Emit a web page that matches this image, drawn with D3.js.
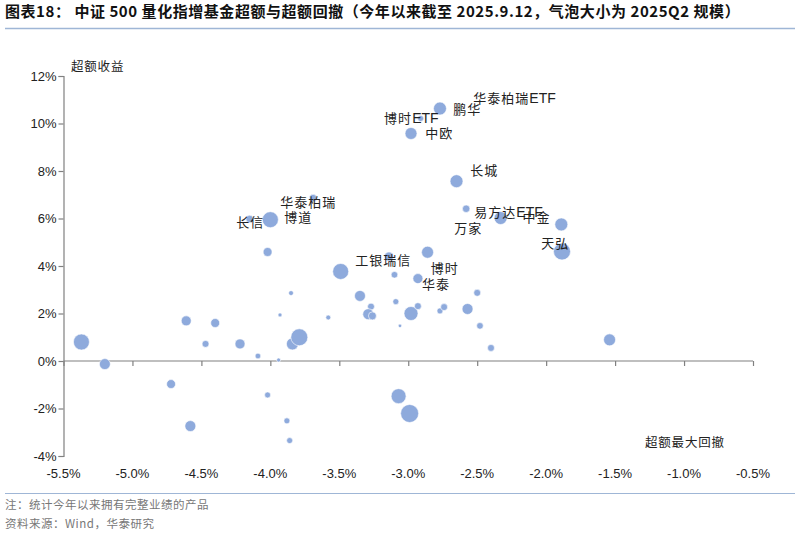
<!DOCTYPE html>
<html><head><meta charset="utf-8">
<script src="https://cdn.jsdelivr.net/npm/d3@7"></script>
<style>
html,body{margin:0;padding:0;background:#fff;}
svg{display:block;}
</style></head>
<body>
<svg id="chart" width="800" height="538"></svg>
<script>
// ---- data ----
// 超额最大回撤 (%)
const drawdown = [-5.37,-5.20,-4.72,-4.58,-4.61,-4.40,-4.47,-4.22,-4.09,-4.02,-3.94,-3.93,-3.85,-3.84,-3.79,-3.88,-3.86,-3.58,-3.35,-3.27,-3.29,-3.26,-3.09,-3.06,-2.98,-2.93,-2.77,-2.74,-2.57,-2.50,-2.48,-2.40,-1.54,-3.07,-2.99,-2.93,-2.65,-3.69,-4.15,-4.00,-2.58,-2.33,-1.89,-1.885,-4.02,-3.14,-2.86,-3.49,-3.10,-2.77,-2.91,-2.98,-2.79];
// 超额收益 (%)
const excess = [0.80,-0.13,-0.97,-2.74,1.69,1.60,0.72,0.72,0.21,-1.43,0.04,1.94,2.86,0.72,1.00,-2.52,-3.35,1.83,2.74,2.29,1.97,1.90,2.50,1.48,2.00,2.31,2.11,2.27,2.19,2.87,1.48,0.55,0.89,-1.48,-2.21,3.47,7.57,6.86,5.98,5.95,6.41,6.02,5.75,4.61,4.59,4.40,4.58,3.77,3.63,10.63,10.21,9.58,3.74];
// 2025Q2 规模 (亿元, 估计)
const scale2025Q2 = [64,30,20,30,25,20,12,25,8,9,4,4,6,36,72,9,9,6,30,12,30,16,9,3,49,12,9,12,30,12,11,12,36,56,81,25,42,14,14,64,14,42,42,72,20,20,36,64,11,42,9,36,2];

// 标注
const labelText = ["华泰柏瑞ETF","鹏华","博时ETF","中欧","长城","华泰柏瑞","博道","长信","易方达ETF","中金","万家","天弘","工银瑞信","博时","华泰"];
const labelX = [-2.528,-2.674,-3.175,-2.877,-2.55,-3.929,-3.90,-4.248,-2.521,-2.172,-2.666,-2.035,-3.385,-2.837,-2.90];
const labelY = [11.05,10.59,10.21,9.58,8.02,6.67,6.03,5.82,6.24,6.03,5.57,4.94,4.22,3.92,3.21];

const xTicks = [-5.5,-5.0,-4.5,-4.0,-3.5,-3.0,-2.5,-2.0,-1.5,-1.0,-0.5];
const yTicks = [-4,-2,0,2,4,6,8,10,12];

const titleText = "图表18：  中证 500 量化指增基金超额与超额回撤（今年以来截至 2025.9.12，气泡大小为 2025Q2 规模）";
const noteText = "注：统计今年以来拥有完整业绩的产品";
const sourceText = "资料来源：Wind，华泰研究";

// ---- drawing ----
const svg = d3.select("#chart");
const cjk = "'Noto Sans CJK SC','Noto Sans',sans-serif";
const latin = "'Liberation Sans',Arial,sans-serif";

const x = d3.scaleLinear().domain([-5.5,-0.5]).range([63.5,753]);
const y = d3.scaleLinear().domain([-4,12]).range([456,76]);
const r = d3.scaleSqrt().domain([0,81]).range([0,9]);

// title
svg.append("text").attr("x",5).attr("y",17)
  .attr("font-family",cjk).attr("font-weight","bold").attr("font-size",15)
  .attr("letter-spacing",0.55)
  .attr("fill","#111").text(titleText);
svg.append("line").attr("x1",5).attr("x2",795).attr("y1",28.5).attr("y2",28.5)
  .attr("stroke","#9fb6d6").attr("stroke-width",1.5);

// axes
const gx = svg.append("g").attr("transform",`translate(0,${y(0)})`)
  .call(d3.axisBottom(x).tickValues(xTicks).tickSize(5).tickFormat(()=>""));
const gy = svg.append("g").attr("transform",`translate(${x(-5.5)},0)`)
  .call(d3.axisLeft(y).tickValues(yTicks).tickSize(5).tickFormat(d=>d+"%"));
[gx,gy].forEach(g=>{
  g.selectAll("path,line").attr("stroke","#808080").attr("stroke-width",1.2);
});
gx.select(".domain").attr("d",`M${x(-5.5)},0H${x(-0.5)}`);
gy.selectAll("text").attr("font-family",latin).attr("font-size",13).attr("fill","#222").attr("x",-7);

// x tick labels at bottom
svg.append("g").selectAll("text").data(xTicks).join("text")
  .attr("x",d=>x(d)).attr("y",478).attr("text-anchor","middle")
  .attr("font-family",latin).attr("font-size",13).attr("fill","#222")
  .text(d=>d.toFixed(1)+"%");

// axis titles
svg.append("text").attr("x",71).attr("y",71).attr("font-family",cjk).attr("font-size",12.5)
  .attr("letter-spacing",0.8).attr("fill","#222").text("超额收益");
svg.append("text").attr("x",645).attr("y",447).attr("font-family",cjk).attr("font-size",12.5)
  .attr("letter-spacing",0.8).attr("fill","#222").text("超额最大回撤");

// bubbles
const pts = drawdown.map((d,i)=>({x:d,y:excess[i],s:scale2025Q2[i]}));
svg.append("g").selectAll("circle").data(pts).join("circle")
  .attr("cx",d=>x(d.x)).attr("cy",d=>y(d.y)).attr("r",d=>r(d.s))
  .attr("fill","#8eaadc").attr("stroke","#ffffff").attr("stroke-width",0.6);

// labels
const labs = labelText.map((t,i)=>({t,x:labelX[i],y:labelY[i]}));
const lg = svg.append("g");
labs.forEach(l=>{
  const t = lg.append("text").attr("x",x(l.x)).attr("y",y(l.y)).attr("dy","0.36em")
    .attr("font-family",cjk).attr("font-size",13).attr("fill","#222").attr("letter-spacing",1);
  const m = l.t.match(/^(.*?)(ETF)?$/);
  t.append("tspan").text(m[1]);
  if(m[2]) t.append("tspan").attr("font-family",latin).attr("letter-spacing",0).attr("font-size",14).text(m[2]);
});

// footer
svg.append("line").attr("x1",5).attr("x2",795).attr("y1",493.5).attr("y2",493.5)
  .attr("stroke","#9fb6d6").attr("stroke-width",1.2);
svg.append("text").attr("x",5).attr("y",509).attr("font-family",cjk).attr("font-size",11.5)
  .attr("letter-spacing",0.5).attr("fill","#777").text(noteText);
svg.append("text").attr("x",5).attr("y",528).attr("font-family",cjk).attr("font-size",11.5)
  .attr("letter-spacing",0.5).attr("fill","#777").text(sourceText);
</script>
</body></html>
